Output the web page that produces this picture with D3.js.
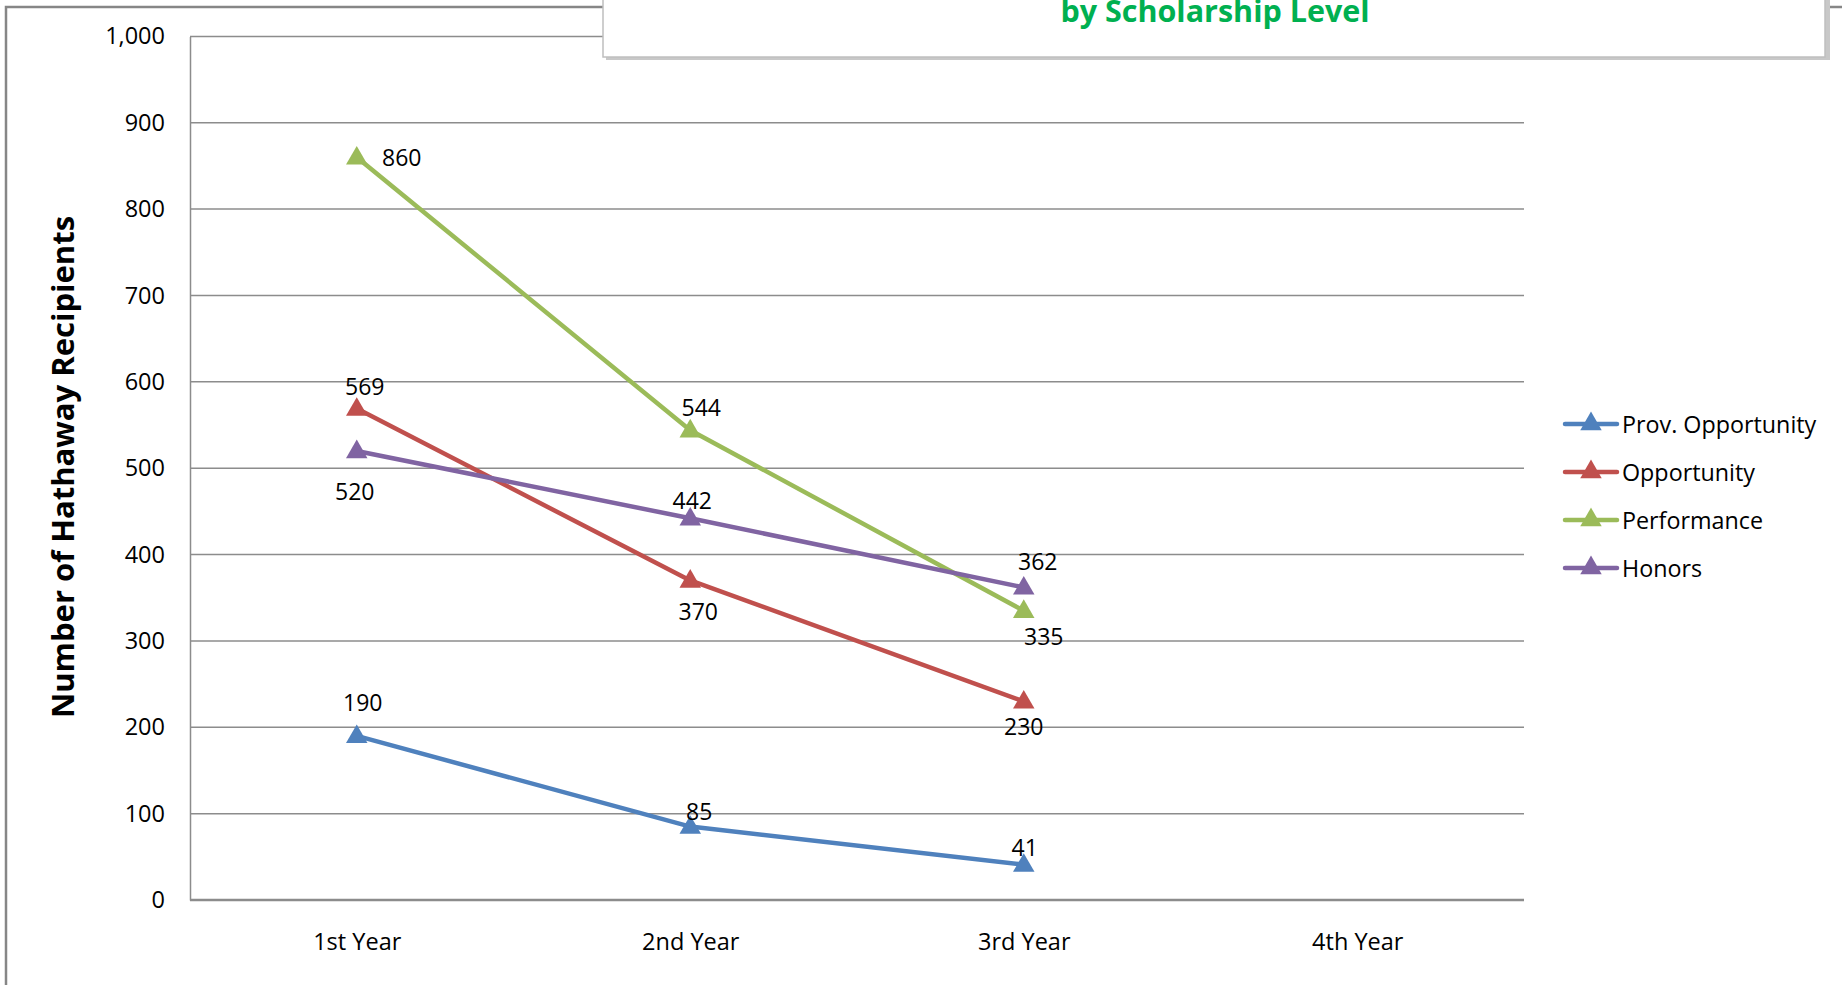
<!DOCTYPE html>
<html>
<head>
<meta charset="utf-8">
<script src="https://cdn.jsdelivr.net/npm/d3@7"></script>
<style>
html,body{margin:0;padding:0;background:#fff;}
svg{display:block;}
text{font-family:"Open Sans",sans-serif;}
</style>
</head>
<body>
<svg id="chart" width="1842" height="985"></svg>
<script>
const categories = ["1st Year", "2nd Year", "3rd Year", "4th Year"];
const seriesNames = ["Prov. Opportunity", "Opportunity", "Performance", "Honors"];
const provOpportunity = [190, 85, 41];
const opportunity = [569, 370, 230];
const performance = [860, 544, 335];
const honors = [520, 442, 362];
const yTicks = [0, 100, 200, 300, 400, 500, 600, 700, 800, 900, 1000];
const colors = ["#4F81BD", "#C0504D", "#9BBB59", "#8064A2"];
// label offsets (px) relative to each point: [dx, dy]
const labelOffsets = [
  [[6,-34],[9,-16],[1,-18]],
  [[8,-23],[8,31],[0,25]],
  [[45,0],[11,-23],[20,25]],
  [[-2,40],[2,-18],[14,-26]]
];

const series = [provOpportunity, opportunity, performance, honors];
const svg = d3.select("#chart");

const plot = {left:190, right:1524, top:36.4, bottom:900};
const x = d3.scalePoint().domain(categories).range([plot.left, plot.right]).padding(0.5);
const y = d3.scaleLinear().domain([0, 1000]).range([plot.bottom, plot.top]);

// outer chart border
svg.append("rect").attr("x",6).attr("y",7).attr("width",1900).attr("height",1100)
  .attr("fill","#fff").attr("stroke","#868686").attr("stroke-width",2.5);

// gridlines
svg.append("g").selectAll("line").data(yTicks).join("line")
  .attr("x1",plot.left).attr("x2",plot.right)
  .attr("y1",d=>y(d)).attr("y2",d=>y(d))
  .attr("stroke","#8c8c8c").attr("stroke-width",d=>d===0?2.5:1.5);

// y axis
const yAxis = d3.axisLeft(y).tickValues(yTicks).tickSize(0).tickPadding(25)
  .tickFormat(d3.format(","));
const yg = svg.append("g").attr("transform",`translate(${plot.left},0)`).call(yAxis);
yg.select(".domain").attr("stroke","#8c8c8c").attr("stroke-width",1.5);
yg.selectAll("text").attr("font-size",23.5).attr("fill","#000").attr("font-family","'Open Sans',sans-serif");

// x axis labels
const xAxis = d3.axisBottom(x).tickSize(0).tickPadding(33);
const xg = svg.append("g").attr("transform",`translate(0,${plot.bottom})`).call(xAxis);
xg.select(".domain").remove();
xg.selectAll("text").attr("font-size",23.5).attr("fill","#000").attr("font-family","'Open Sans',sans-serif");

// y title
svg.append("text").attr("transform","translate(62,467) rotate(-90)")
  .attr("text-anchor","middle").attr("dominant-baseline","central")
  .attr("font-size",31).attr("font-weight","bold").attr("fill","#000")
  .text("Number of Hathaway Recipients");

// triangle symbol
const tri = d3.symbol().type(d3.symbolTriangle).size(200);

// lines
const line = d3.line().x((d,i)=>x(categories[i])).y(d=>y(d));
series.forEach((s,k)=>{
  const g = svg.append("g");
  g.append("path").datum(s).attr("d",line).attr("fill","none")
    .attr("stroke",colors[k]).attr("stroke-width",4.5).attr("stroke-linejoin","round");
  g.selectAll("path.m").data(s).join("path").attr("class","m")
    .attr("d",tri).attr("fill",colors[k])
    .attr("transform",(d,i)=>`translate(${x(categories[i])},${y(d)+1})`);
});
series.forEach((s,k)=>{
  svg.append("g").selectAll("text").data(s).join("text")
    .attr("x",(d,i)=>x(categories[i])+labelOffsets[k][i][0])
    .attr("y",(d,i)=>y(d)+labelOffsets[k][i][1])
    .attr("text-anchor","middle").attr("dominant-baseline","central")
    .attr("font-size",23).attr("fill","#000")
    .text(d=>d3.format(",")(d));
});

// legend
const legY = [424, 472, 520, 568];
const leg = svg.append("g");
seriesNames.forEach((n,k)=>{
  leg.append("line").attr("x1",1565).attr("x2",1617).attr("y1",legY[k]).attr("y2",legY[k])
    .attr("stroke",colors[k]).attr("stroke-width",4.5).attr("stroke-linecap","round");
  leg.append("path").attr("d",tri).attr("fill",colors[k])
    .attr("transform",`translate(1591,${legY[k]})`);
  leg.append("text").attr("x",1622).attr("y",legY[k]).attr("dominant-baseline","central")
    .attr("font-size",23.3).attr("fill","#000").text(n);
});

// title box with shadow
svg.append("rect").attr("x",606).attr("y",-20).attr("width",1224).attr("height",80)
  .attr("fill","#c8c8c8");
svg.append("rect").attr("x",603).attr("y",-20).attr("width",1222).attr("height",77)
  .attr("fill","#fff").attr("stroke","#bfbfbf").attr("stroke-width",1.5);
svg.append("text").attr("x",1215).attr("y",22).attr("text-anchor","middle")
  .attr("font-size",30.5).attr("font-weight","bold").attr("fill","#00B050")
  .text("by Scholarship Level");
</script>
</body>
</html>
